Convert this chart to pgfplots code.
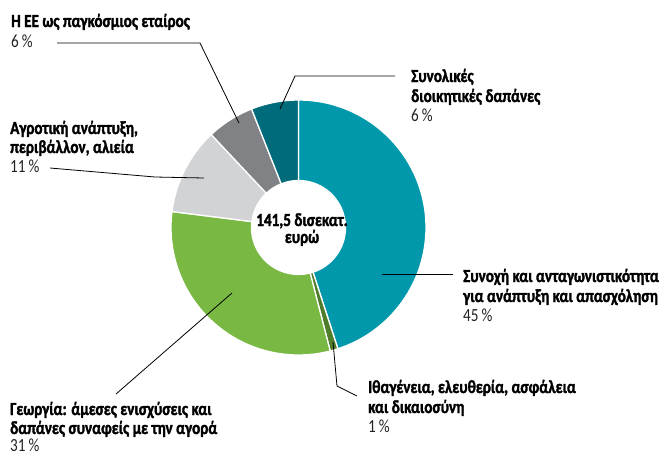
\documentclass[border=0pt]{standalone}
\usepackage{pgfplots}
\pgfplotsset{compat=1.18}
\usepackage{pgfplotstable}
\usetikzlibrary{calc}
\usepackage{fontspec}
\setmainfont{Carlito}[FakeStretch=0.82, BoldFeatures={FakeBold=1.6}]
\definecolor{cTeal}{RGB}{0,152,170}
\definecolor{cDkTeal}{RGB}{0,107,122}
\definecolor{cGray}{RGB}{128,130,133}
\definecolor{cLtGray}{RGB}{209,211,212}
\definecolor{cGreen}{RGB}{120,184,67}
\definecolor{cDkGreen}{RGB}{79,125,43}
\definecolor{cPct}{RGB}{35,35,35}
\pgfplotstableread{
value col
45 cTeal
1 cDkGreen
31 cGreen
11 cLtGray
6 cGray
6 cDkTeal
}\budget
\begin{document}
\begin{tikzpicture}[
  lab/.style={anchor=base west, inner sep=0pt, font=\bfseries\fontsize{18.5}{19}\selectfont, text=black},
  pct/.style={anchor=base west, inner sep=0pt, font=\fontsize{18.5}{19}\selectfont, text=cPct},
  lead/.style={black, line width=0.8pt}]
\begin{axis}[x=1pt, y=1pt, xmin=0, xmax=664, ymin=0, ymax=456, y dir=reverse,
  hide axis, clip=false]
\path (axis cs:0,0) rectangle (axis cs:664,456);
\pgfplotstablegetrowsof{\budget}
\pgfmathtruncatemacro\N{\pgfplotsretval-1}
\def\cum{0}
\pgfplotsforeachungrouped \i in {0,...,\N}{
  \pgfplotstablegetelem{\i}{value}\of\budget \let\v\pgfplotsretval
  \pgfplotstablegetelem{\i}{col}\of\budget \let\c\pgfplotsretval
  \pgfmathsetmacro\a{90-3.6*\cum}
  \pgfmathsetmacro\b{90-3.6*(\cum+\v)}
  \edef\cmd{\noexpand\filldraw[fill=\c, draw=white, line width=1.3pt, line join=round]
    ($(axis cs:298.5,227.5)+(\a:127.5pt)$) arc[start angle=\a, end angle=\b, radius=127.5pt]
    -- ($(axis cs:298.5,227.5)+(\b:47pt)$) arc[start angle=\b, end angle=\a, radius=47pt] -- cycle;}
  \cmd
  \pgfmathsetmacro\cum{\cum+\v}
}
% leader lines
\draw[lead] (axis cs:57,43) -- (axis cs:200,43) -- (axis cs:239,123);
\draw[lead] (axis cs:395,76) -- (axis cs:295,76) -- (axis cs:280,109);
\draw[lead] (axis cs:50,168) -- (axis cs:155,177) -- (axis cs:204,178);
\draw[lead] (axis cs:382,274) -- (axis cs:453,274);
\draw[lead] (axis cs:333,342) -- (axis cs:337,386) -- (axis cs:357,396);
\draw[lead] (axis cs:232,293) -- (axis cs:116,394);
% labels
\node[lab] at (axis cs:11,27) {Η ΕΕ ως παγκόσμιος εταίρος};
\node[pct] at (axis cs:11,47) {6\,\%};
\node[lab] at (axis cs:411,82) {Συνολικές};
\node[lab] at (axis cs:411,102) {διοικητικές δαπάνες};
\node[pct] at (axis cs:411,121) {6\,\%};
\node[lab] at (axis cs:10,134) {Αγροτική ανάπτυξη,};
\node[lab] at (axis cs:10,153) {περιβάλλον, αλιεία};
\node[pct] at (axis cs:10,172) {11\,\%};
\node[lab] at (axis cs:463,282) {Συνοχή και ανταγωνιστικότητα};
\node[lab] at (axis cs:463,302) {για ανάπτυξη και απασχόληση};
\node[pct] at (axis cs:463,321) {45\,\%};
\node[lab] at (axis cs:368,393) {Ιθαγένεια, ελευθερία, ασφάλεια};
\node[lab] at (axis cs:368,413) {και δικαιοσύνη};
\node[pct] at (axis cs:368,432) {1\,\%};
\node[lab] at (axis cs:10,415) {Γεωργία: άμεσες ενισχύσεις και};
\node[lab] at (axis cs:10,434) {δαπάνες συναφείς με την αγορά};
\node[pct] at (axis cs:10,451) {31\,\%};
\node[lab, anchor=base] at (axis cs:302,226) {141,5 δισεκατ.};
\node[lab, anchor=base] at (axis cs:302,243) {ευρώ};
\end{axis}
\end{tikzpicture}
\end{document}
